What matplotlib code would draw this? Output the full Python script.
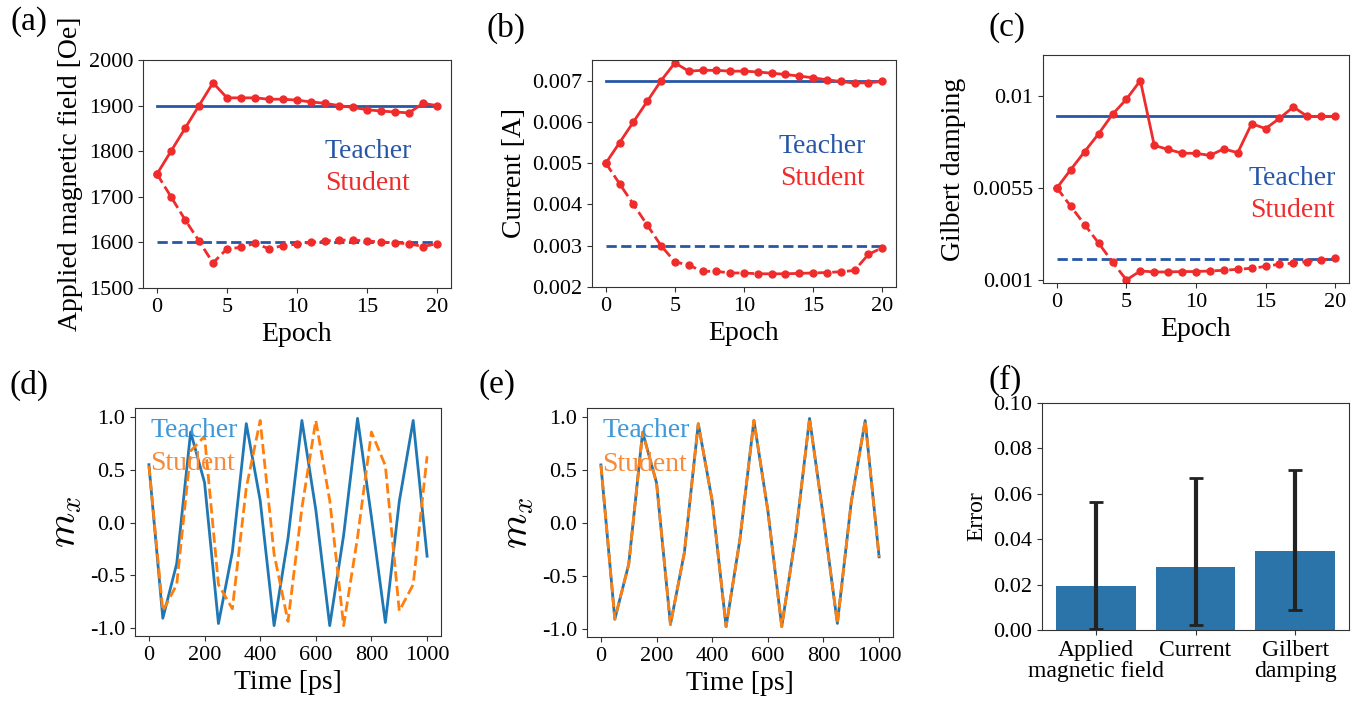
import matplotlib.pyplot as plt

plt.rcParams['font.family'] = ['Liberation Serif', 'DejaVu Serif']
plt.rcParams['mathtext.fontset'] = 'cm'
plt.rcParams['axes.unicode_minus'] = False
plt.rcParams['axes.edgecolor'] = '#333333'
plt.rcParams['xtick.color'] = '#333333'
plt.rcParams['ytick.color'] = '#333333'
plt.rcParams['xtick.labelcolor'] = 'black'
plt.rcParams['ytick.labelcolor'] = 'black'

# ---- data -------------------------------------------------------------
epochs = list(range(21))

# (a) applied magnetic field [Oe]
field_teacher_hi = 1900
field_teacher_lo = 1600
field_student_hi = [1750, 1800, 1850, 1900, 1950, 1917, 1917, 1917, 1914, 1914, 1912,
                    1908, 1905, 1900, 1896, 1891, 1888, 1886, 1884, 1905, 1900]
field_student_lo = [1750, 1700, 1650, 1603, 1555, 1586, 1589, 1598, 1586, 1593, 1596,
                    1600, 1603, 1605, 1605, 1603, 1601, 1599, 1597, 1591, 1597]

# (b) current [A]
cur_teacher_hi = 0.007
cur_teacher_lo = 0.003
cur_student_hi = [0.0050, 0.0055, 0.0060, 0.0065, 0.0070, 0.00743, 0.00723, 0.00725, 0.00725,
                  0.00723, 0.00723, 0.00721, 0.00718, 0.00715, 0.00711, 0.00707, 0.00702,
                  0.00698, 0.00694, 0.00695, 0.00698]
cur_student_lo = [0.0050, 0.0045, 0.0040, 0.0035, 0.0030, 0.00261, 0.00253, 0.00238, 0.00238,
                  0.00234, 0.00234, 0.00232, 0.00232, 0.00232, 0.00233, 0.00234, 0.00235,
                  0.00237, 0.00240, 0.00279, 0.00295]

# (c) Gilbert damping
damp_teacher_hi = 0.009
damp_teacher_lo = 0.002
damp_student_hi = [0.0055, 0.0064, 0.00728, 0.00815, 0.0091, 0.00984, 0.01075, 0.00758, 0.00738,
                   0.0072, 0.00719, 0.00709, 0.00741, 0.00722, 0.00864, 0.0084, 0.0089,
                   0.00946, 0.0090, 0.0090, 0.0090]
damp_student_lo = [0.0055, 0.0046, 0.0037, 0.0028, 0.00187, 0.0010, 0.00144, 0.00139, 0.00139,
                   0.00141, 0.00141, 0.00144, 0.00147, 0.00152, 0.00157, 0.00166, 0.00177,
                   0.00182, 0.0019, 0.00198, 0.00205]

# (d), (e) magnetisation time series
time_ps = list(range(0, 1001, 50))
teacher_mx = [0.55, -0.91, -0.39, 0.86, 0.38, -0.96, -0.28, 0.94, 0.21, -0.98, -0.15,
              0.97, 0.12, -0.98, -0.12, 0.99, 0.05, -0.95, 0.20, 0.97, -0.32]
student_mx_d = [0.54, -0.84, -0.59, 0.68, 0.82, -0.59, -0.82, 0.33, 0.97, -0.30, -0.94,
                0.14, 0.97, 0.21, -0.98, -0.14, 0.86, 0.54, -0.84, -0.59, 0.63]
student_mx_e = list(teacher_mx)

# (f) error
err_labels = ['Applied\nmagnetic field', 'Current', 'Gilbert\ndamping']
err_mean = [0.0195, 0.0278, 0.0349]
err_min = [0.0004, 0.0022, 0.0088]
err_max = [0.0563, 0.0669, 0.0703]

# ---- figure -----------------------------------------------------------
W, H = 1369, 705
fig = plt.figure(figsize=(W / 100, H / 100), dpi=100)


def px_axes(left, top, right, bottom):
    return fig.add_axes([left / W, 1 - bottom / H, (right - left) / W, (bottom - top) / H])


blue = '#2756a7'
red = '#ef2b2b'
tick_fs = 16
label_fs = 20


def param_panel(ax, student_hi, student_lo, teacher_hi, teacher_lo, ylabel, txt_x, txt_y):
    ax.plot([epochs[0], epochs[-1]], [teacher_hi, teacher_hi], color=blue, lw=2)
    ax.plot([epochs[0], epochs[-1]], [teacher_lo, teacher_lo], color=blue, lw=2, ls='--')
    ax.plot(epochs, student_hi, color=red, lw=2, marker='o', ms=5)
    ax.plot(epochs, student_lo, color=red, lw=2, ls='--', marker='o', ms=5)
    ax.set_xticks([0, 5, 10, 15, 20])
    ax.set_xlabel('Epoch', fontsize=label_fs)
    ax.set_ylabel(ylabel, fontsize=label_fs)
    ax.tick_params(labelsize=tick_fs)
    ax.text(txt_x, txt_y, 'Teacher', color=blue, fontsize=label_fs, ha='center', va='center',
            transform=ax.transAxes)
    ax.text(txt_x, txt_y - 0.14, 'Student', color=red, fontsize=label_fs, ha='center', va='center',
            transform=ax.transAxes)


ax_a = px_axes(143, 60, 451, 288)
param_panel(ax_a, field_student_hi, field_student_lo, field_teacher_hi, field_teacher_lo,
            'Applied magnetic field [Oe]', 0.73, 0.60)
ax_a.set_ylim(1500, 2000)

ax_b = px_axes(592, 60, 896, 287)
param_panel(ax_b, cur_student_hi, cur_student_lo, cur_teacher_hi, cur_teacher_lo,
            'Current [A]', 0.757, 0.617)
ax_b.set_ylim(0.002, 0.0075)
ax_b.set_yticks([0.002, 0.003, 0.004, 0.005, 0.006, 0.007])
ax_b.set_yticklabels(['0.002', '0.003', '0.004', '0.005', '0.006', '0.007'])

ax_c = px_axes(1043, 55, 1349, 283)
param_panel(ax_c, damp_student_hi, damp_student_lo, damp_teacher_hi, damp_teacher_lo,
            'Gilbert damping', 0.814, 0.46)
ax_c.set_ylim(0.00085, 0.012)
ax_c.set_yticks([0.001, 0.0055, 0.01])
ax_c.set_yticklabels(['0.001', '0.0055', '0.01'])

lt_blue = '#3d98d8'
lt_orange = '#f58a3a'


def mx_panel(ax, student):
    ax.plot(time_ps, teacher_mx, color='#1f77b4', lw=2)
    ax.plot(time_ps, student, color='#ff7f0e', lw=2, ls='--')
    ax.set_xticks([0, 200, 400, 600, 800, 1000])
    ax.set_yticks([-1.0, -0.5, 0.0, 0.5, 1.0])
    ax.set_xlabel('Time [ps]', fontsize=label_fs)
    ax.set_ylabel('$m_x$', fontsize=29)
    ax.tick_params(labelsize=tick_fs)
    ax.text(0.05, 0.90, 'Teacher', color=lt_blue, fontsize=label_fs, ha='left', va='center',
            transform=ax.transAxes)
    ax.text(0.05, 0.755, 'Student', color=lt_orange, fontsize=label_fs, ha='left', va='center',
            transform=ax.transAxes)


ax_d = px_axes(135, 408, 441, 636)
mx_panel(ax_d, student_mx_d)

ax_e = px_axes(587, 408, 893, 637)
mx_panel(ax_e, student_mx_e)

ax_f = px_axes(1042, 403, 1349, 630)
xpos = range(len(err_labels))
yerr = [[m - lo for m, lo in zip(err_mean, err_min)], [hi - m for m, hi in zip(err_mean, err_max)]]
ax_f.bar(xpos, err_mean, width=0.8, color='#2b74a9', yerr=yerr, capsize=5,
         error_kw=dict(ecolor='#222222', elinewidth=3, capthick=2))
ax_f.set_xticks(list(xpos))
ax_f.set_xticklabels(err_labels, fontsize=17, linespacing=1.0)
ax_f.set_ylim(0, 0.1)
ax_f.set_yticks([0.0, 0.02, 0.04, 0.06, 0.08, 0.10])
ax_f.set_yticklabels(['0.00', '0.02', '0.04', '0.06', '0.08', '0.10'])
ax_f.tick_params(axis='y', labelsize=tick_fs)
ax_f.set_ylabel('Error', fontsize=17)

for lab, x, y in [('(a)', 29, 22), ('(b)', 506, 28), ('(c)', 1007, 28),
                  ('(d)', 29, 385), ('(e)', 497, 385), ('(f)', 1005, 380)]:
    fig.text(x / W, 1 - y / H, lab, fontsize=24, ha='center', va='center')

fig.savefig('out.png', dpi=100)
